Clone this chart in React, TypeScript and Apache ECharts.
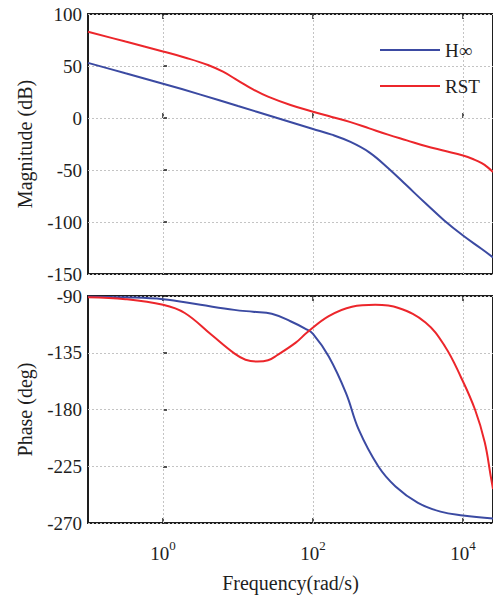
import React, { useEffect, useRef } from 'react';
import * as echarts from 'echarts';

// ---- data (x values are log10 of frequency in rad/s) ----
const seriesNames = ['H∞', 'RST'];
const xTickExps = [0, 2, 4];

const hinfMagX = [-1, -0.5, 0, 0.5, 1, 1.5, 2, 2.25, 2.5, 2.75, 3, 3.25, 3.5, 3.75, 4, 4.25, 4.4];
const hinfMagDb = [53, 43, 33, 22.5, 11.5, 0.5, -10.5, -16, -23, -33, -48, -65, -82, -98.5, -113, -126, -134];

const rstMagX = [-1, -0.5, 0, 0.3, 0.6, 0.8, 1, 1.2, 1.4, 1.7, 2, 2.25, 2.5, 2.75, 3, 3.25, 3.5, 3.75, 4, 4.15, 4.25, 4.33, 4.4];
const rstMagDb = [83, 73.5, 64, 58, 51, 44.5, 36, 27.5, 20.5, 12.5, 6, 1, -4, -10, -16, -21.5, -27, -31.5, -36, -40, -43.5, -47.5, -52];

const hinfPhaseX = [-1, -0.5, 0, 0.5, 0.95, 1.2, 1.45, 1.7, 1.9, 2, 2.21, 2.44, 2.61, 2.87, 3.1, 3.4, 3.7, 4, 4.4];
const hinfPhaseDeg = [-90.5, -91, -92.5, -97, -101, -102.5, -104, -110, -116, -120, -138, -167, -196, -225, -241, -254, -261, -264, -266.5];

const rstPhaseX = [-1, -0.5, 0, 0.29, 0.65, 0.95, 1.1, 1.26, 1.4, 1.52, 1.77, 1.92, 2.21, 2.52, 2.83, 3.14, 3.5, 3.76, 3.97, 4.16, 4.29, 4.37, 4.4];
const rstPhaseDeg = [-91, -92.5, -97, -103.5, -121, -135.5, -140.5, -142, -141, -137, -127, -119, -106, -98.5, -97, -99.5, -111, -130, -154, -180, -206, -233, -243];

const magAxis = { min: -150, max: 100, interval: 50, name: 'Magnitude (dB)' };
const phaseAxis = { min: -270, max: -90, interval: 45, name: 'Phase (deg)' };
const xAxisName = 'Frequency(rad/s)';

const BLUE = '#3b4aa2';
const RED = '#ec262b';
const INK = '#1e1e1e';
const FONT = 'Liberation Serif, Times New Roman, serif';

const zip = (xs: number[], ys: number[]) => xs.map((x, i) => [x, ys[i]]);

export default function App() {
  const ref = useRef<HTMLDivElement>(null);

  useEffect(() => {
    if (!ref.current) return;
    const chart = echarts.init(ref.current, undefined, { renderer: 'svg' });

    const xAxisBase = (gridIndex: number, position: 'top' | 'bottom', showLabel: boolean) => ({
      type: 'value',
      gridIndex,
      position,
      min: -1,
      max: 4.4,
      axisLine: { show: false },
      splitLine: { show: false },
      axisTick: {
        show: true,
        inside: true,
        length: 5,
        customValues: xTickExps,
        lineStyle: { color: INK, width: 1.5 },
      },
      axisLabel: {
        show: showLabel,
        customValues: xTickExps,
        margin: 16,
        formatter: (v: number) => `{b|10}{s|${v}}`,
        rich: {
          b: { fontSize: 19, fontFamily: FONT, color: INK, lineHeight: 24, verticalAlign: 'bottom' },
          s: { fontSize: 13, fontFamily: FONT, color: INK, lineHeight: 14, verticalAlign: 'top' },
        },
      },
    });

    const yAxisBase = (gridIndex: number, ax: typeof magAxis) => ({
      type: 'value',
      gridIndex,
      min: ax.min,
      max: ax.max,
      interval: ax.interval,
      name: ax.name,
      nameLocation: 'middle',
      nameRotate: 90,
      nameGap: 53,
      nameTextStyle: { fontSize: 20, fontFamily: FONT, color: INK },
      axisLine: { show: false },
      axisTick: { show: true, inside: true, length: 4, lineStyle: { color: INK, width: 1.5 } },
      axisLabel: { fontSize: 19, fontFamily: FONT, color: INK, margin: 6 },
      splitLine: { show: true, lineStyle: { color: '#c4c4c4', width: 1, type: [2, 2] } },
    });

    const gridLines = (xAxisIndex: number, yAxisIndex: number) => ({
      type: 'line',
      xAxisIndex,
      yAxisIndex,
      data: [],
      silent: true,
      z: 1,
      markLine: {
        silent: true,
        symbol: 'none',
        z: 1,
        label: { show: false },
        lineStyle: { color: '#c4c4c4', width: 1, type: [2, 2] },
        data: xTickExps.map((e) => ({ xAxis: e })),
      },
    });

    const curve = (name: string, color: string, xAxisIndex: number, yAxisIndex: number, data: number[][]) => ({
      type: 'line',
      name,
      xAxisIndex,
      yAxisIndex,
      data,
      showSymbol: false,
      smooth: 0.4,
      z: 3,
      color,
      lineStyle: { color, width: 2 },
    });

    chart.setOption({
      animation: false,
      backgroundColor: '#ffffff',
      textStyle: { fontFamily: FONT },
      legend: {
        data: seriesNames,
        orient: 'vertical',
        left: 375,
        top: 35,
        icon: 'rect',
        itemWidth: 60,
        itemHeight: 2,
        itemGap: 16,
        textStyle: { fontSize: 19, fontFamily: FONT, color: INK, lineHeight: 20 },
      },
      grid: [
        { left: 88, top: 14, width: 408, height: 260, show: true, borderColor: INK, borderWidth: 2, backgroundColor: 'transparent' },
        { left: 88, top: 296, width: 408, height: 227, show: true, borderColor: INK, borderWidth: 2, backgroundColor: 'transparent' },
      ],
      xAxis: [
        xAxisBase(0, 'bottom', false),
        xAxisBase(0, 'top', false),
        {
          ...xAxisBase(1, 'bottom', true),
          name: xAxisName,
          nameLocation: 'middle',
          nameGap: 50,
          nameTextStyle: { fontSize: 20, fontFamily: FONT, color: INK },
        },
        xAxisBase(1, 'top', false),
      ],
      yAxis: [yAxisBase(0, magAxis), yAxisBase(1, phaseAxis)],
      series: [
        gridLines(0, 0),
        gridLines(2, 1),
        curve(seriesNames[0], BLUE, 0, 0, zip(hinfMagX, hinfMagDb)),
        curve(seriesNames[1], RED, 0, 0, zip(rstMagX, rstMagDb)),
        curve(seriesNames[0], BLUE, 2, 1, zip(hinfPhaseX, hinfPhaseDeg)),
        curve(seriesNames[1], RED, 2, 1, zip(rstPhaseX, rstPhaseDeg)),
      ],
    });

    return () => chart.dispose();
  }, []);

  return (
    <div
      ref={ref}
      style={{ position: 'fixed', left: 0, top: 0, width: 493, height: 601, background: '#fff' }}
    />
  );
}
